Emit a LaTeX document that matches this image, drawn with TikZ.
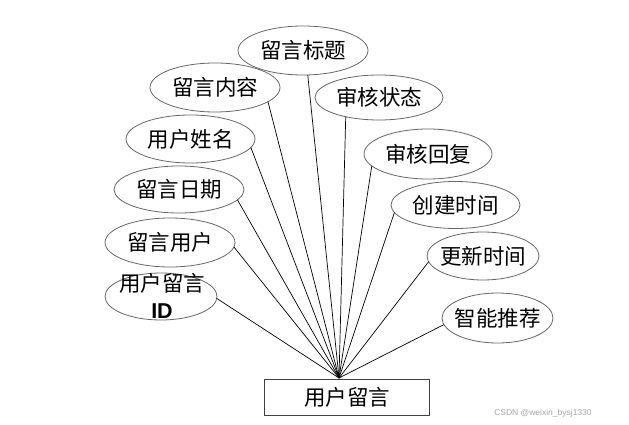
\documentclass[tikz,border=0pt]{standalone}
\usepackage{fontspec}
\newfontfamily\cjk{Noto Sans CJK SC}
\newfontfamily\lat{Liberation Sans}
\usetikzlibrary{shapes.geometric}
\newcommand{\zb}[1]{\makebox[0pt]{#1}}
\begin{document}
\begin{tikzpicture}[x=1pt,y=-1pt,
  attr/.style={ellipse, draw=black!60, line width=0.8pt, fill=white,
    inner sep=0pt, outer sep=0pt, font=\cjk\fontsize{21.5}{24}\selectfont},
  entity/.style={rectangle, draw=black!75, line width=0.9pt, fill=white,
    inner sep=0pt, outer sep=0pt, minimum width=165pt, minimum height=36pt,
    font=\cjk\fontsize{21.5}{24}\selectfont},
  link/.style={black, line width=0.7pt}]
\useasboundingbox (0,0) rectangle (629,425);
% attributes
\node[attr, minimum width=130pt, minimum height=49pt] (title)   at (303,50.5)  {\zb{留言标题}};
\node[attr, minimum width=130pt, minimum height=49pt] (content) at (215,87.5)  {\zb{留言内容}};
\node[attr, minimum width=129pt, minimum height=48pt] (uname)   at (190.5,139) {\zb{用户姓名}};
\node[attr, minimum width=130pt, minimum height=47pt] (mdate)   at (179,189.5) {\zb{留言日期}};
\node[attr, minimum width=130pt, minimum height=49pt] (muser)   at (170,242.5) {\zb{留言用户}};
\node[attr, minimum width=112pt, minimum height=47pt] (mid)     at (161,296.5) {};
\node[font=\cjk\fontsize{21.5}{27}\selectfont, align=center, inner sep=0pt] (midt) at (162,296)
  {用户留言\\{\lat\bfseries ID}};
\node[attr, minimum width=128pt, minimum height=45pt] (state)   at (379,97.5)  {\zb{审核状态}};
\node[attr, minimum width=128pt, minimum height=50pt] (reply)   at (428,154)   {\zb{审核回复}};
\node[attr, minimum width=129pt, minimum height=47pt] (created) at (455.5,205)   {\zb{创建时间}};
\node[attr, minimum width=112pt, minimum height=48pt] (updated) at (483,256)   {\zb{更新时间}};
\node[attr, minimum width=111pt, minimum height=50pt] (rec)     at (497.5,318) {\zb{智能推荐}};
% entity
\node[entity] (ent) at (347,397.5) {用户留言};
\coordinate (hub) at (339,378);
% links
\draw[link] (title.281.5) -- (hub);
\draw[link] (content.345) -- (hub);
\draw[link] (uname.352) -- (hub);
\draw[link] (mdate.350) -- (hub);
\draw[link] (muser.356) -- (hub);
\draw[link] (mid.358) -- (hub);
\draw[link] (state.210) -- (hub);
\draw[link] (reply.192.6) -- (hub);
\draw[link] (created.187) -- (hub);
\draw[link] (updated.186) -- (hub);
\draw[link] (rec.187) -- (hub);
% watermark
\node[font=\lat\fontsize{8.5}{10}\selectfont, text=black!35, inner sep=0pt] (wm) at (543,413) {CSDN @weixin\_bysj1330};
\end{tikzpicture}
\end{document}
